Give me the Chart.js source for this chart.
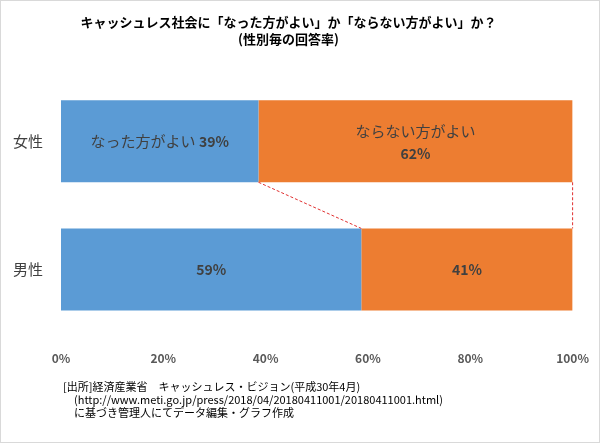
<!DOCTYPE html>
<html>
<head>
<meta charset="utf-8">
<script src="https://cdn.jsdelivr.net/npm/chart.js@4"></script>
<style>
  body { margin: 0; background: #fff; }
  #wrap { width: 598px; height: 441px; border: 1px solid #d9d9d9; }
</style>
</head>
<body>
<div id="wrap"><canvas id="c" width="598" height="441"></canvas></div>
<script>
const categories = ["女性", "男性"];
const shouldSeries = [38.6, 58.7];     // なった方がよい
const shouldNotSeries = [61.4, 41.3];  // ならない方がよい
const shouldLabels = ["39%", "59%"];
const shouldNotLabels = ["62%", "41%"];
const xTicks = ["0%", "20%", "40%", "60%", "80%", "100%"];
const sourceLines = [
  "[出所]経済産業省　キャッシュレス・ビジョン(平成30年4月)",
  "　(http://www.meti.go.jp/press/2018/04/20180411001/20180411001.html)",
  "　に基づき管理人にてデータ編集・グラフ作成",
];

const font = "'Noto Sans CJK JP', sans-serif";

// bar labels, connector lines and source note
const extras = {
  id: "extras",
  afterDatasetsDraw(chart) {
    const ctx = chart.ctx;
    const m0 = chart.getDatasetMeta(0).data;
    const m1 = chart.getDatasetMeta(1).data;

    ctx.save();
    ctx.textBaseline = "middle";
    ctx.fillStyle = "#404040";
    // female
    const f0 = m0[0], f1 = m1[0];
    const t1 = "なった方がよい ";
    ctx.font = "bold 14px " + font;
    const w2 = ctx.measureText(shouldLabels[0]).width;
    ctx.font = "15px " + font;
    const w1 = ctx.measureText(t1).width;
    const cx = (f0.base + f0.x) / 2;
    ctx.textAlign = "left";
    ctx.fillText(t1, cx - (w1 + w2) / 2, f0.y);
    ctx.font = "bold 14px " + font;
    ctx.fillText(shouldLabels[0], cx - (w1 + w2) / 2 + w1, f0.y);
    ctx.textAlign = "center";
    const cx2 = (f1.base + f1.x) / 2;
    ctx.font = "15px " + font;
    ctx.fillText("ならない方がよい", cx2, f1.y - 10);
    ctx.font = "bold 14px " + font;
    ctx.fillText(shouldNotLabels[0], cx2, f1.y + 12);
    // male
    const g0 = m0[1], g1 = m1[1];
    ctx.fillText(shouldLabels[1], (g0.base + g0.x) / 2, g0.y);
    ctx.fillText(shouldNotLabels[1], (g1.base + g1.x) / 2, g1.y);

    // connector lines
    ctx.strokeStyle = "#e03030";
    ctx.lineWidth = 1;
    ctx.setLineDash([3, 2]);
    ctx.beginPath();
    ctx.moveTo(f0.x, f0.y + f0.height / 2);
    ctx.lineTo(g0.x, g0.y - g0.height / 2);
    ctx.moveTo(f1.x, f1.y + f1.height / 2);
    ctx.lineTo(g1.x, g1.y - g1.height / 2);
    ctx.stroke();
    ctx.setLineDash([]);

    // source note
    ctx.textAlign = "left";
    ctx.fillStyle = "#000";
    ctx.font = "11px " + font;
    sourceLines.forEach((s, i) => ctx.fillText(s, 62, 386 + i * 13));
    ctx.restore();
  },
};

new Chart(document.getElementById("c"), {
  type: "bar",
  data: {
    labels: categories,
    datasets: [
      { label: "なった方がよい", data: shouldSeries, backgroundColor: "#5b9bd5",
        barPercentage: 0.64, categoryPercentage: 1 },
      { label: "ならない方がよい", data: shouldNotSeries, backgroundColor: "#ed7d31",
        barPercentage: 0.64, categoryPercentage: 1 },
    ],
  },
  options: {
    indexAxis: "y",
    responsive: false,
    animation: false,
    layout: { padding: { left: 2, right: 25, bottom: 66, top: 0 } },
    scales: {
      x: {
        stacked: true, min: 0, max: 100,
        grid: { display: false }, border: { display: false },
        ticks: {
          stepSize: 20, padding: 10,
          color: "#595959", font: { family: font, size: 12, weight: "bold" },
          callback: (v, i) => xTicks[i],
        },
      },
      y: {
        stacked: true,
        grid: { display: false }, border: { display: false },
        ticks: { color: "#404040", padding: 10, font: { family: font, size: 15 } },
      },
    },
    plugins: {
      legend: { display: false },
      tooltip: { enabled: false },
      title: {
        display: true,
        text: ["キャッシュレス社会に「なった方がよい」か「ならない方がよい」か？", "(性別毎の回答率)"],
        color: "#000",
        font: { family: font, size: 13, weight: "bold", lineHeight: 1.35 },
        padding: { top: 12, bottom: 29 },
      },
    },
  },
  plugins: [extras],
});
</script>
</body>
</html>
